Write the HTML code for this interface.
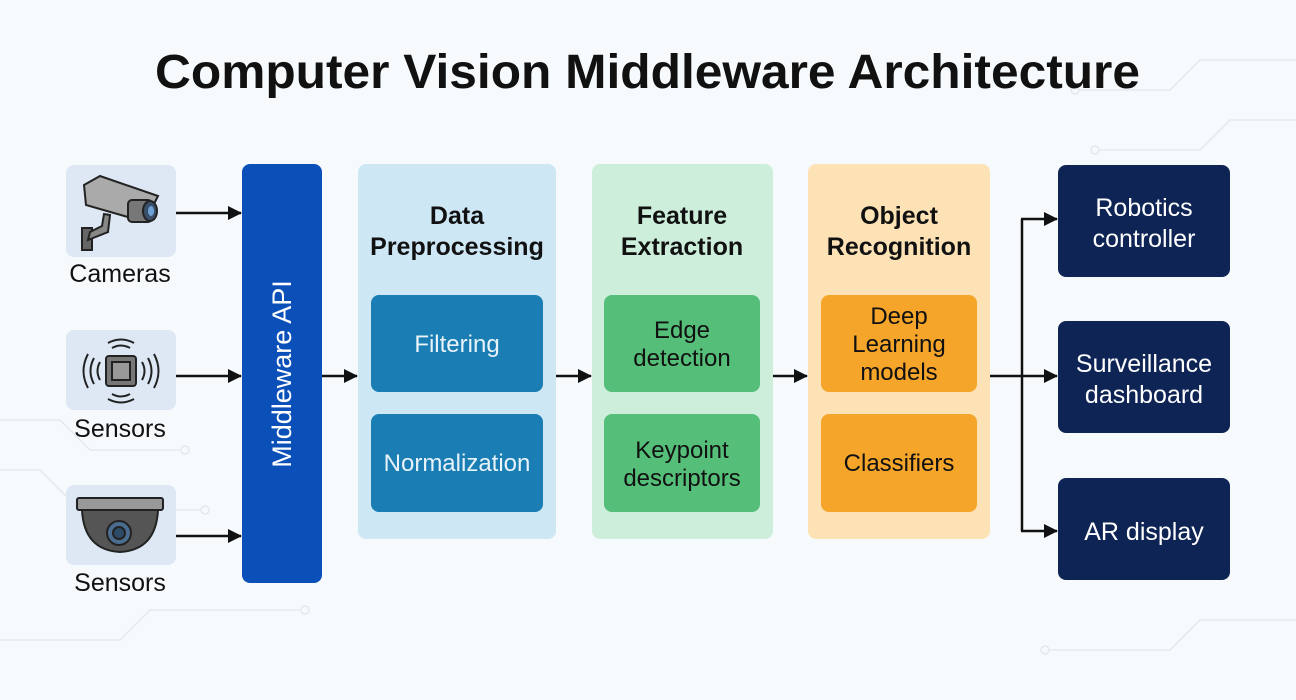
<!DOCTYPE html>
<html><head><meta charset="utf-8"><style>
html,body{margin:0;padding:0;background:#f7fafc;}
svg{display:block;font-family:"Liberation Sans",Arial,sans-serif;}
</style></head><body>
<svg width="1296" height="700" viewBox="0 0 1296 700" xmlns="http://www.w3.org/2000/svg">
<defs>
<marker id="ah" markerWidth="14" markerHeight="14" refX="13" refY="7" orient="auto" markerUnits="userSpaceOnUse"><path d="M0,0 L14,7 L0,14 Z" fill="#111"/></marker>
</defs>
<rect width="1296" height="700" fill="#f7fafc"/>
<g stroke="#e3e9ef" stroke-width="1.5" fill="none">
<path d="M0,420 L60,420 L90,450 L180,450"/><circle cx="185" cy="450" r="4"/>
<path d="M0,470 L40,470 L80,510 L200,510"/><circle cx="205" cy="510" r="4"/>
<path d="M0,640 L120,640 L150,610 L300,610"/><circle cx="305" cy="610" r="4"/>
<path d="M1296,60 L1200,60 L1170,90 L1080,90"/><circle cx="1075" cy="90" r="4"/>
<path d="M1296,120 L1230,120 L1200,150 L1100,150"/><circle cx="1095" cy="150" r="4"/>
<path d="M1296,620 L1200,620 L1170,650 L1050,650"/><circle cx="1045" cy="650" r="4"/>
</g>
<text x="155" y="88" textLength="985" lengthAdjust="spacingAndGlyphs" font-size="48" font-weight="bold" fill="#111">Computer Vision Middleware Architecture</text>

<rect x="66" y="165" width="110" height="92" rx="8" fill="#dde8f4"/>
<rect x="66" y="330" width="110" height="80" rx="8" fill="#dde8f4"/>
<rect x="66" y="485" width="110" height="80" rx="8" fill="#dde8f4"/>
<g stroke="#222" stroke-width="2">
<rect x="82" y="228" width="10" height="22" fill="#666"/>
<path d="M88,240 L108,232 L110,215 L104,214 L102,226 L90,232 Z" fill="#888"/>
<path d="M84,185 L100,176 L158,196 L145,222 L86,205 Z" fill="#aaa"/>
<rect x="128" y="200" width="24" height="22" rx="4" fill="#777"/>
<ellipse cx="150" cy="211" rx="7" ry="10" fill="#3a4f6a"/>
</g>
<ellipse cx="151" cy="211" rx="3" ry="5" fill="#6fa3d8"/>
<g stroke="#222" stroke-width="2" fill="none">
<rect x="106" y="356" width="30" height="30" rx="3" fill="#777"/>
<rect x="112" y="362" width="18" height="18" fill="#999"/>
<path d="M100,362 Q95,371 100,380 M94,358 Q87,371 94,384 M88,354 Q79,371 88,388"/>
<path d="M142,362 Q147,371 142,380 M148,358 Q155,371 148,384 M154,354 Q163,371 154,388"/>
<path d="M112,348 Q121,343 130,348 M108,343 Q121,336 134,343"/>
<path d="M112,394 Q121,399 130,394 M108,399 Q121,406 134,399"/>
</g>
<g stroke="#222" stroke-width="2">
<rect x="77" y="498" width="86" height="12" rx="2" fill="#999"/>
<path d="M82,510 L158,510 Q156,550 120,552 Q84,550 82,510 Z" fill="#555"/>
<circle cx="119" cy="533" r="12" fill="#4a6d8f"/>
<circle cx="119" cy="533" r="6" fill="#2d4a66"/>
</g>
<g font-size="25" fill="#111" text-anchor="middle">
<text x="120" y="282">Cameras</text>
<text x="120" y="437">Sensors</text>
<text x="120" y="591">Sensors</text>
</g>
<g stroke="#111" stroke-width="2.5" marker-end="url(#ah)">
<line x1="176" y1="213" x2="241" y2="213"/>
<line x1="176" y1="376" x2="241" y2="376"/>
<line x1="176" y1="536" x2="241" y2="536"/>
<line x1="322" y1="376" x2="357" y2="376"/>
<line x1="556" y1="376" x2="591" y2="376"/>
<line x1="773" y1="376" x2="807" y2="376"/>
</g>
<rect x="242" y="164" width="80" height="419" rx="8" fill="#0b50b8"/>
<text transform="translate(291,374) rotate(-90)" text-anchor="middle" font-size="27" fill="#fff">Middleware API</text>

<rect x="358" y="164" width="198" height="375" rx="8" fill="#cde7f5"/>
<rect x="592" y="164" width="181" height="375" rx="8" fill="#cdeedb"/>
<rect x="808" y="164" width="182" height="375" rx="8" fill="#fde2b6"/>
<g font-size="25" font-weight="bold" fill="#111" text-anchor="middle">
<text x="457" y="224">Data</text><text x="457" y="255">Preprocessing</text>
<text x="682" y="224">Feature</text><text x="682" y="255">Extraction</text>
<text x="899" y="224">Object</text><text x="899" y="255">Recognition</text>
</g>
<rect x="371" y="295" width="172" height="97" rx="8" fill="#1a7db3"/>
<rect x="371" y="414" width="172" height="98" rx="8" fill="#1a7db3"/>
<rect x="604" y="295" width="156" height="97" rx="8" fill="#55bf7a"/>
<rect x="604" y="414" width="156" height="98" rx="8" fill="#55bf7a"/>
<rect x="821" y="295" width="156" height="97" rx="8" fill="#f5a52a"/>
<rect x="821" y="414" width="156" height="98" rx="8" fill="#f5a52a"/>
<g font-size="24" text-anchor="middle">
<text x="457" y="352" fill="#e8f3fa">Filtering</text>
<text x="457" y="471" fill="#e8f3fa">Normalization</text>
<text x="682" y="338" fill="#111">Edge</text><text x="682" y="366" fill="#111">detection</text>
<text x="682" y="458" fill="#111">Keypoint</text><text x="682" y="486" fill="#111">descriptors</text>
<text x="899" y="324" fill="#111">Deep</text><text x="899" y="352" fill="#111">Learning</text><text x="899" y="380" fill="#111">models</text>
<text x="899" y="471" fill="#111">Classifiers</text>
</g>

<g stroke="#111" stroke-width="2.5" fill="none">
<line x1="990" y1="376" x2="1022" y2="376"/>
<line x1="1022" y1="219" x2="1022" y2="531"/>
<line x1="1021" y1="219" x2="1057" y2="219" marker-end="url(#ah)"/>
<line x1="1022" y1="376" x2="1057" y2="376" marker-end="url(#ah)"/>
<line x1="1021" y1="531" x2="1057" y2="531" marker-end="url(#ah)"/>
</g>
<rect x="1058" y="165" width="172" height="112" rx="8" fill="#0e2454"/>
<rect x="1058" y="321" width="172" height="112" rx="8" fill="#0e2454"/>
<rect x="1058" y="478" width="172" height="102" rx="8" fill="#0e2454"/>
<g font-size="25" fill="#fff" text-anchor="middle">
<text x="1144" y="216">Robotics</text><text x="1144" y="247">controller</text>
<text x="1144" y="372">Surveillance</text><text x="1144" y="403">dashboard</text>
<text x="1144" y="540">AR display</text>
</g>
</svg>
</body></html>
